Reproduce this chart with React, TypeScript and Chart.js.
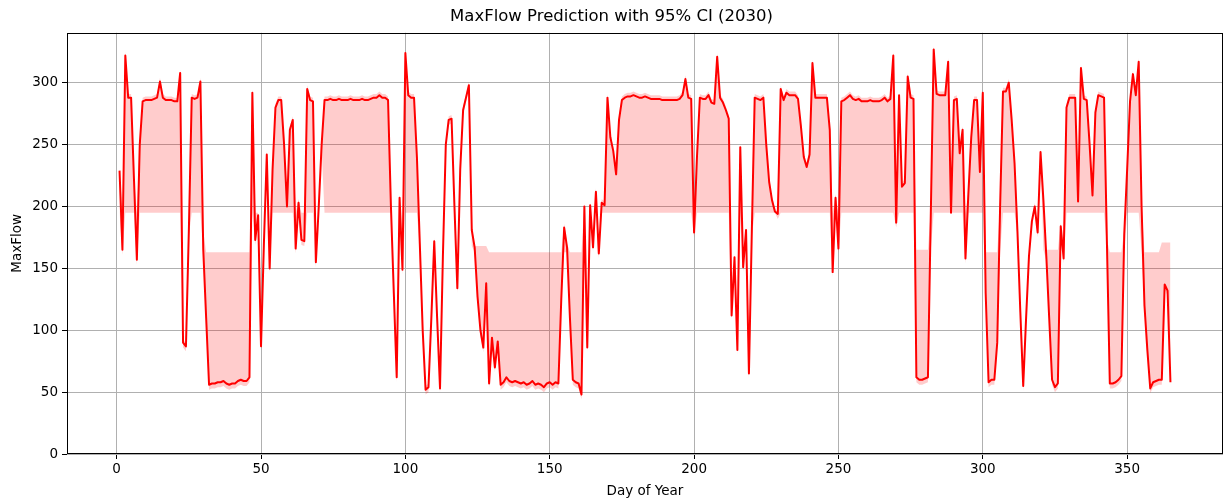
import React, { useEffect, useRef } from 'react';
import { Chart, registerables } from 'chart.js';

Chart.register(...registerables);

const TITLE = 'MaxFlow Prediction with 95% CI (2030)';
const X_LABEL = 'Day of Year';
const Y_LABEL = 'MaxFlow';
const FONT = 'DejaVu Sans';

const xTicks = [0, 50, 100, 150, 200, 250, 300, 350];
const yTicks = [0, 50, 100, 150, 200, 250, 300];

// Predicted MaxFlow for day 1..365
const maxFlow = [
  229, 165, 322, 288, 288, 222, 157, 250, 285, 286,
  286, 286, 287, 288, 301, 288, 286, 286, 286, 285,
  285, 308, 90, 87, 180, 288, 287, 288, 301, 165,
  110, 56, 57, 57, 58, 58, 59, 57, 56, 57,
  57, 59, 60, 59, 59, 62, 292, 173, 193, 87,
  170, 242, 150, 230, 280, 286, 286, 250, 200, 262,
  270, 166, 203, 173, 172, 295, 286, 285, 155, 200,
  250, 286, 286, 287, 286, 286, 287, 286, 286, 286,
  287, 286, 286, 286, 287, 286, 286, 287, 288, 288,
  290, 288, 288, 286, 200, 130, 62, 207, 149, 324,
  290, 288, 288, 240, 170, 100, 52, 54, 110, 172,
  110, 53, 160, 250, 270, 271, 200, 134, 230, 278,
  288, 298, 181, 167, 127, 100, 86, 138, 57, 94,
  70, 91, 56, 58, 62, 59, 58, 59, 58, 57,
  58, 56, 57, 59, 56, 57, 56, 54, 57, 58,
  56, 58, 57, 125, 183, 167, 110, 60, 58, 57,
  48, 200, 86, 201, 167, 212, 162, 203, 201, 288,
  256, 245, 226, 270, 286, 288, 289, 289, 290, 289,
  288, 288, 289, 288, 287, 287, 287, 287, 286, 286,
  286, 286, 286, 286, 287, 290, 303, 288, 287, 179,
  240, 288, 287, 287, 290, 284, 283, 321, 288, 284,
  278, 271, 112, 159, 84, 248, 151, 181, 65, 180,
  288, 287, 286, 288, 250, 220, 205, 196, 194, 295,
  286, 292, 290, 290, 290, 287, 265, 240, 232, 242,
  316, 288, 288, 288, 288, 288, 262, 147, 207, 166,
  285, 286, 288, 290, 287, 286, 287, 285, 285, 285,
  286, 285, 285, 285, 286, 288, 285, 287, 322, 187,
  290, 216, 219, 305, 288, 287, 62, 60, 60, 61,
  62, 195, 327, 291, 290, 290, 290, 317, 195, 286,
  287, 243, 262, 158, 210, 256, 286, 286, 228, 292,
  130, 58, 60, 60, 90, 200, 293, 293, 300, 270,
  235, 180, 115, 55, 110, 160, 188, 200, 179, 244,
  205, 160, 110, 60, 54, 57, 184, 158, 280, 288,
  288, 288, 204, 312, 287, 286, 250, 209, 276, 290,
  289, 288, 170, 57, 57, 58, 60, 63, 178, 230,
  285, 307, 290, 317, 200, 120, 84, 53, 58, 59,
  60, 60, 137, 132, 58,
];

// Flat edge of the confidence band: [firstDay, lastDay, level]
// (null = only a thin band hugging the line)
const ciEdgeSegments: [number, number, number | null][] = [
  [1, 22, 195], [23, 24, null], [25, 29, 195], [30, 30, 180], [31, 46, 163],
  [47, 49, 195], [50, 53, null], [54, 68, 195], [69, 71, null], [72, 95, 195],
  [96, 99, null], [100, 104, 195], [105, 122, null], [123, 128, 168], [129, 161, 163],
  [162, 167, null], [168, 212, 195], [213, 215, null], [216, 216, 195], [217, 220, null],
  [221, 276, 195], [277, 282, 165], [283, 300, 195], [301, 306, 163], [307, 312, 195],
  [313, 320, null], [321, 326, 165], [327, 328, null], [329, 342, 195], [343, 343, null],
  [344, 349, 163], [350, 354, 195], [355, 361, 163], [362, 365, 171],
];
const ciMarginAbove = 3;
const ciMarginBelow = 4;

const days = maxFlow.map((_, i) => i + 1);

function edgeFor(day: number): number | null {
  for (const [a, b, v] of ciEdgeSegments) {
    if (day >= a && day <= b) return v;
  }
  return null;
}

function buildBand() {
  const upper: { x: number; y: number }[] = [];
  const lower: { x: number; y: number }[] = [];
  days.forEach((d, i) => {
    const p = maxFlow[i];
    const e = edgeFor(d);
    if (e === null) {
      upper.push({ x: d, y: p + ciMarginAbove });
      lower.push({ x: d, y: p - ciMarginBelow });
    } else {
      upper.push({ x: d, y: p > e ? p + ciMarginAbove : e });
      lower.push({ x: d, y: p < e ? p - ciMarginBelow : e });
    }
  });
  return { upper, lower };
}

const framePlugin = {
  id: 'frame',
  afterDraw(chart: any) {
    const { ctx, chartArea: a } = chart;
    ctx.save();
    ctx.strokeStyle = '#000';
    ctx.lineWidth = 1;
    ctx.strokeRect(Math.round(a.left) + 0.5, Math.round(a.top) + 0.5,
      Math.round(a.right - a.left) - 1, Math.round(a.bottom - a.top) - 1);
    ctx.restore();
  },
};

export default function App() {
  const ref = useRef<HTMLCanvasElement | null>(null);
  useEffect(() => {
    document.body.style.margin = '0';
    const { upper, lower } = buildBand();
    const line = days.map((d, i) => ({ x: d, y: maxFlow[i] }));
    const chart = new Chart(ref.current as HTMLCanvasElement, {
      type: 'line',
      data: {
        datasets: [
          {
            label: 'Prediction',
            data: line,
            borderColor: '#ff0000',
            borderWidth: 2,
            pointRadius: 0,
            fill: false,
            tension: 0,
            borderJoinStyle: 'round',
          },
          {
            label: 'Upper',
            data: upper,
            borderColor: 'rgba(0,0,0,0)',
            borderWidth: 0,
            pointRadius: 0,
            backgroundColor: 'rgba(255,0,0,0.2)',
            fill: '+1',
            tension: 0,
          },
          {
            label: 'Lower',
            data: lower,
            borderColor: 'rgba(0,0,0,0)',
            borderWidth: 0,
            pointRadius: 0,
            fill: false,
            tension: 0,
          },
        ],
      } as any,
      options: {
        animation: false,
        responsive: false,
        layout: { padding: { left: 0, right: 8, top: 0, bottom: 0 } },
        plugins: {
          legend: { display: false },
          tooltip: { enabled: false },
          title: {
            display: true,
            text: TITLE,
            color: '#000',
            font: { family: FONT, size: 16.5, weight: 'normal' },
            padding: { top: 7, bottom: 6 },
          },
        },
        scales: {
          x: {
            type: 'linear',
            min: -17.2,
            max: 383.2,
            afterBuildTicks: (s: any) => { s.ticks = xTicks.map((v) => ({ value: v })); },
            afterFit: (s: any) => { s.height = 50; },
            ticks: {
              color: '#000',
              font: { family: FONT, size: 13.5 },
              padding: 2,
              maxRotation: 0,
              autoSkip: false,
            },
            grid: { color: '#b0b0b0', lineWidth: 1, tickLength: 5, tickColor: '#000' },
            border: { display: false },
            title: {
              display: true,
              text: X_LABEL,
              color: '#000',
              font: { family: FONT, size: 13.5 },
              padding: { top: 0, bottom: 4 },
            },
          },
          y: {
            type: 'linear',
            min: 0,
            max: 340.4,
            afterBuildTicks: (s: any) => { s.ticks = yTicks.map((v) => ({ value: v })); },
            afterFit: (s: any) => { s.width = 67; },
            ticks: {
              color: '#000',
              font: { family: FONT, size: 13.5 },
              padding: 4,
              autoSkip: false,
            },
            grid: { color: '#b0b0b0', lineWidth: 1, tickLength: 5, tickColor: '#000' },
            border: { display: false },
            title: {
              display: true,
              text: Y_LABEL,
              color: '#000',
              font: { family: FONT, size: 13.5 },
              padding: { top: 9, bottom: 0 },
            },
          },
        },
      } as any,
      plugins: [framePlugin],
    });
    return () => chart.destroy();
  }, []);
  return (
    <div style={{ position: 'absolute', left: 0, top: 0, width: 1231, height: 504, background: '#fff' }}>
      <canvas ref={ref} width={1231} height={504} style={{ display: 'block' }} />
    </div>
  );
}
